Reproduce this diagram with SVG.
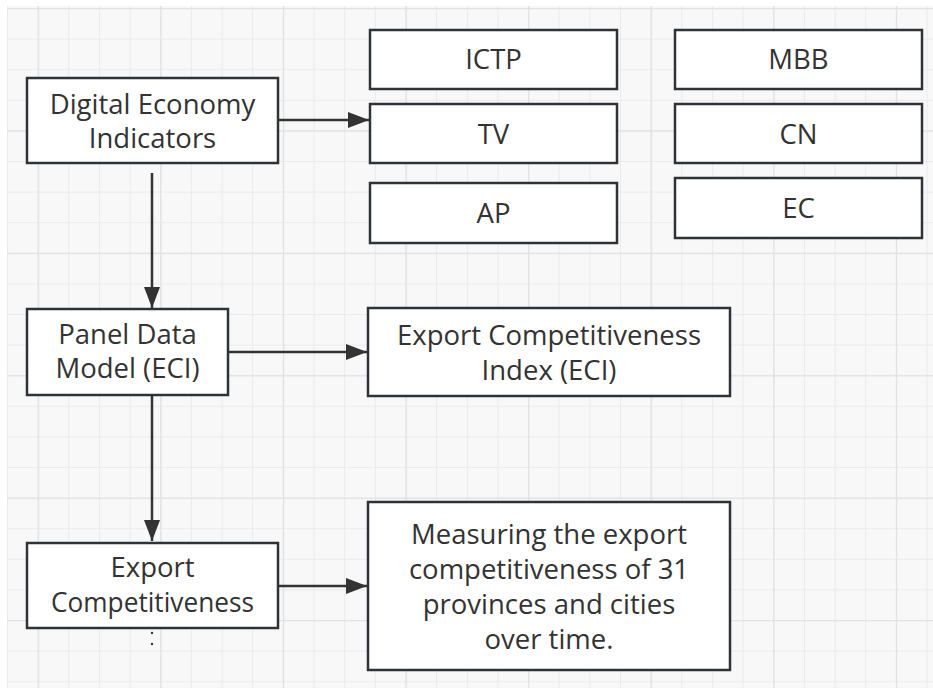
<svg xmlns="http://www.w3.org/2000/svg" width="933" height="688" viewBox="0 0 933 688">
  <style>
    .box { fill: #ffffff; stroke: #2f3337; stroke-width: 2.5; }
    .lbl { font-family: "Open Sans", "Noto Sans", "DejaVu Sans", sans-serif; font-size: 27.5px; fill: #333333; text-anchor: middle; }
    .edge { stroke: #333333; stroke-width: 2.5; fill: none; }
  </style>
  <defs>
    <pattern id="minor" patternUnits="userSpaceOnUse" x="7" y="8" width="30.65" height="30.6">
      <path d="M0 0.5 H30.65 M0.5 0 V30.6" stroke="#ebebeb" stroke-width="1.2" fill="none"/>
    </pattern>
    <pattern id="major" patternUnits="userSpaceOnUse" x="37.65" y="8" width="122.6" height="122.4">
      <path d="M0 0.5 H122.6 M0.5 0 V122.4" stroke="#e1e1e1" stroke-width="1.5" fill="none"/>
    </pattern>
    <marker id="arrow" markerUnits="userSpaceOnUse" markerWidth="22" markerHeight="18" refX="21" refY="8" orient="auto">
      <path d="M0 0 L21 8 L0 16 Z" fill="#333333"/>
    </marker>
  </defs>

  <rect x="0" y="0" width="933" height="688" fill="#ffffff"/>
  <rect x="7" y="6" width="926" height="682" fill="#f8f8f8"/>
  <rect x="7" y="6" width="926" height="682" fill="url(#minor)"/>
  <rect x="7" y="6" width="926" height="682" fill="url(#major)"/>

  <g id="connectors">
    <line class="edge" x1="279" y1="120" x2="369" y2="120" marker-end="url(#arrow)"/>
    <line class="edge" x1="152" y1="173" x2="152" y2="308" marker-end="url(#arrow)"/>
    <line class="edge" x1="229" y1="352" x2="367" y2="352" marker-end="url(#arrow)"/>
    <line class="edge" x1="152" y1="396" x2="152" y2="541" marker-end="url(#arrow)"/>
    <line class="edge" x1="279" y1="586" x2="367" y2="586" marker-end="url(#arrow)"/>
  </g>

  <g id="dei">
    <rect class="box" x="27" y="78" width="251" height="85"/>
    <text class="lbl" x="152.5" y="114">Digital Economy</text>
    <text class="lbl" x="152.5" y="148">Indicators</text>
  </g>
  <g id="ictp">
    <rect class="box" x="370" y="30" width="247" height="59"/>
    <text class="lbl" x="493.5" y="69">ICTP</text>
  </g>
  <g id="tv">
    <rect class="box" x="370" y="104" width="247" height="59"/>
    <text class="lbl" x="493.5" y="144">TV</text>
  </g>
  <g id="ap">
    <rect class="box" x="370" y="183" width="247" height="60"/>
    <text class="lbl" x="493.5" y="223">AP</text>
  </g>
  <g id="mbb">
    <rect class="box" x="675" y="30" width="247" height="59"/>
    <text class="lbl" x="798.5" y="69">MBB</text>
  </g>
  <g id="cn">
    <rect class="box" x="675" y="104" width="247" height="59"/>
    <text class="lbl" x="798.5" y="144">CN</text>
  </g>
  <g id="ec">
    <rect class="box" x="675" y="178" width="247" height="60"/>
    <text class="lbl" x="798.5" y="218">EC</text>
  </g>
  <g id="pdm">
    <rect class="box" x="27" y="309" width="201" height="86"/>
    <text class="lbl" x="127.5" y="344">Panel Data</text>
    <text class="lbl" x="127.5" y="378">Model (ECI)</text>
  </g>
  <g id="eci">
    <rect class="box" x="368" y="308" width="362" height="88"/>
    <text class="lbl" x="549" y="345">Export Competitiveness</text>
    <text class="lbl" x="549" y="380">Index (ECI)</text>
  </g>
  <g id="expcomp">
    <rect class="box" x="27" y="543" width="251" height="85"/>
    <text class="lbl" x="152.5" y="577">Export</text>
    <text class="lbl" x="152.5" y="612" textLength="203" lengthAdjust="spacingAndGlyphs">Competitiveness</text>
    <circle cx="152" cy="633" r="1.2" fill="#333333"/>
    <circle cx="152" cy="644" r="1.2" fill="#333333"/>
  </g>
  <g id="measuring">
    <rect class="box" x="368" y="502" width="362" height="168"/>
    <text class="lbl" x="549" y="544">Measuring the export</text>
    <text class="lbl" x="549" y="579">competitiveness of 31</text>
    <text class="lbl" x="549" y="614">provinces and cities</text>
    <text class="lbl" x="549" y="649">over time.</text>
  </g>
</svg>
